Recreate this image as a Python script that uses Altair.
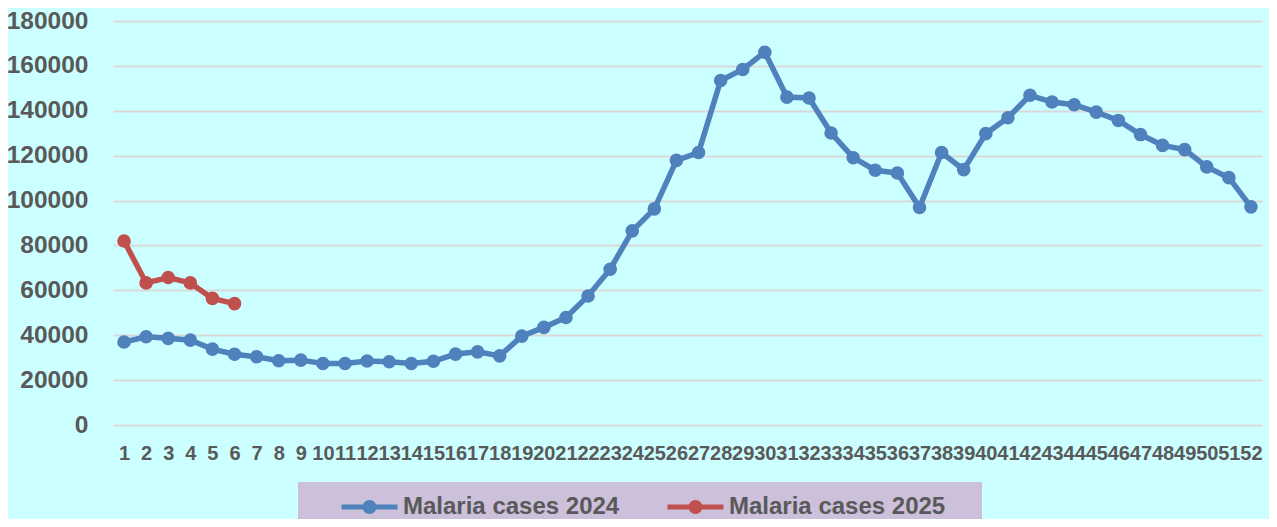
import altair as alt
import pandas as pd

weeks_2024 = list(range(1, 53))
cases_2024 = [37000, 39300, 38600, 37800, 33800, 31500, 30400, 28600, 28900, 27400,
              27400, 28500, 28200, 27400, 28400, 31600, 32600, 30800, 39600, 43500,
              47900, 57500, 69400, 86500, 96300, 117900, 121400, 153500, 158400, 166100,
              146100, 145700, 130100, 119100, 113500, 112300, 96900, 121400, 113800, 129800,
              136900, 146900, 143900, 142700, 139400, 135700, 129400, 124600, 122700, 115000,
              110200, 97200]
weeks_2025 = [1, 2, 3, 4, 5, 6]
cases_2025 = [82000, 63300, 65700, 63300, 56400, 54100]

series_names = ["Malaria cases 2024", "Malaria cases 2025"]
series_colors = ["#4F81BD", "#C0504D"]
y_ticks = list(range(0, 180001, 20000))

df = pd.concat([
    pd.DataFrame({"week": weeks_2024, "cases": cases_2024, "series": series_names[0]}),
    pd.DataFrame({"week": weeks_2025, "cases": cases_2025, "series": series_names[1]}),
])

FONT = "Liberation Sans"
TXT = "#595959"

color = alt.Color(
    "series:N",
    scale=alt.Scale(domain=series_names, range=series_colors),
    legend=alt.Legend(
        orient="none",
        legendX=185,
        legendY=461,
        direction="horizontal",
        title=" ",
        titleOrient="left",
        titleFontSize=8,
        titlePadding=31,
        fillColor="#CCC0DA",
        padding=10,
        clipHeight=30,
        symbolType="M-1,0L1,0M-0.16,0A0.16,0.16,0,1,0,0.16,0A0.16,0.16,0,1,0,-0.16,0Z",
        symbolSize=3136,
        symbolStrokeWidth=5,
        labelFont=FONT,
        labelFontSize=24,
        labelFontWeight="bold",
        labelColor=TXT,
        labelOffset=3,
        labelLimit=400,
        columnPadding=45,
        labelExpr="datum.label == 'Malaria cases 2025' ? datum.label + '\u00a0\u00a0\u00a0\u00a0\u200b' : datum.label",
    ),
)

x = alt.X(
    "week:O",
    scale=alt.Scale(type="point", padding=0.5),
    axis=alt.Axis(
        title=None, labelAngle=0, ticks=False, domain=False, grid=False,
        labelPadding=18, labelFont=FONT, labelFontSize=20, labelFontWeight="bold",
        labelColor=TXT, labelOverlap=False,
    ),
)
y = alt.Y(
    "cases:Q",
    scale=alt.Scale(domain=[0, 180000], nice=False),
    axis=alt.Axis(
        title=None, values=y_ticks, ticks=False, domain=False, grid=True,
        gridColor="#D9D9D9", gridWidth=2, labelPadding=25, labelFont=FONT,
        labelFontSize=24.5, labelFontWeight="bold", labelColor=TXT, format="d",
    ),
)

chart = alt.Chart(df).mark_line(
    strokeWidth=5.5,
    point=alt.OverlayMarkDef(filled=True, size=185, opacity=1),
).encode(
    x=x, y=y, color=color,
).properties(
    width=1149, height=404,
    autosize=alt.AutoSizeParams(type="none"),
    padding={"left": 105, "top": 13, "right": 7, "bottom": 94},
    background="#CCFFFF",
).configure_view(stroke=None)

chart.save("out.html", embed_options={"renderer": "svg", "actions": False})
